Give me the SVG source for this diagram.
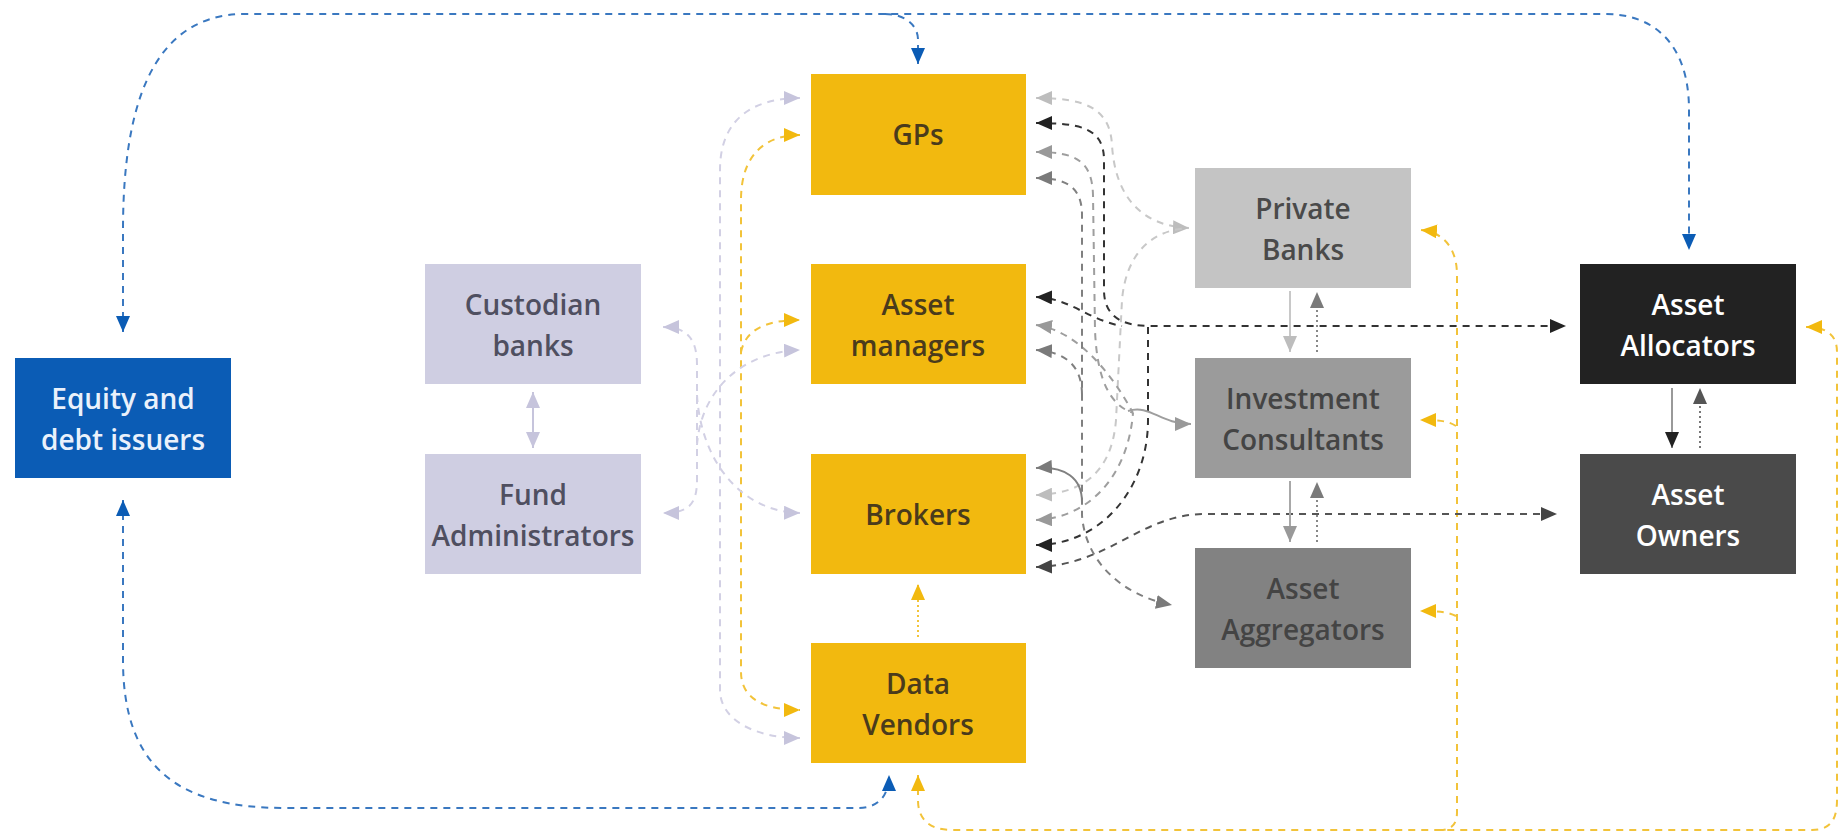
<svg xmlns="http://www.w3.org/2000/svg" width="1839" height="837" viewBox="0 0 1839 837">
<defs>
<style>
.box text{font-family:"Open Sans","Liberation Sans",sans-serif;font-weight:600;font-size:28px;text-anchor:middle;dominant-baseline:central}
.y rect{fill:#F2B90F}.y text{fill:#4a3b1c}
.lv rect{fill:#CFCEE2}.lv text{fill:#4f4f60}
.c path,.c line{fill:none;stroke-width:2;stroke-dasharray:7 6}
.solid{stroke-dasharray:none!important}
.dot{stroke-dasharray:2 3!important}
</style>
<marker id="mY" viewBox="0 0 16 14" refX="16" refY="7" markerWidth="16" markerHeight="14" markerUnits="userSpaceOnUse" orient="auto-start-reverse"><path d="M0,0L16,7L0,14z" fill="#F2B90F"/></marker>
<marker id="mB" viewBox="0 0 16 14" refX="16" refY="7" markerWidth="16" markerHeight="14" markerUnits="userSpaceOnUse" orient="auto-start-reverse"><path d="M0,0L16,7L0,14z" fill="#0B5CB5"/></marker>
<marker id="mL" viewBox="0 0 16 14" refX="16" refY="7" markerWidth="16" markerHeight="14" markerUnits="userSpaceOnUse" orient="auto-start-reverse"><path d="M0,0L16,7L0,14z" fill="#C6C4DC"/></marker>
<marker id="mK" viewBox="0 0 16 14" refX="16" refY="7" markerWidth="16" markerHeight="14" markerUnits="userSpaceOnUse" orient="auto-start-reverse"><path d="M0,0L16,7L0,14z" fill="#222"/></marker>
<marker id="mD" viewBox="0 0 16 14" refX="16" refY="7" markerWidth="16" markerHeight="14" markerUnits="userSpaceOnUse" orient="auto-start-reverse"><path d="M0,0L16,7L0,14z" fill="#444"/></marker>
<marker id="mG1" viewBox="0 0 16 14" refX="16" refY="7" markerWidth="16" markerHeight="14" markerUnits="userSpaceOnUse" orient="auto-start-reverse"><path d="M0,0L16,7L0,14z" fill="#BDBDBD"/></marker>
<marker id="mG2" viewBox="0 0 16 14" refX="16" refY="7" markerWidth="16" markerHeight="14" markerUnits="userSpaceOnUse" orient="auto-start-reverse"><path d="M0,0L16,7L0,14z" fill="#999"/></marker>
<marker id="mG3" viewBox="0 0 16 14" refX="16" refY="7" markerWidth="16" markerHeight="14" markerUnits="userSpaceOnUse" orient="auto-start-reverse"><path d="M0,0L16,7L0,14z" fill="#7A7A7A"/></marker>
<marker id="mG4" viewBox="0 0 16 14" refX="16" refY="7" markerWidth="16" markerHeight="14" markerUnits="userSpaceOnUse" orient="auto-start-reverse"><path d="M0,0L16,7L0,14z" fill="#555"/></marker>
</defs>
<rect width="1839" height="837" fill="#fff"/>

<g id="connectors" class="c">
<!-- blue -->
<g stroke="#3A78C0">
<path d="M123,332 L123,230 C123,110 150,14 245,14 L1605,14 C1655,14 1689,45 1689,110 L1689,250" marker-start="url(#mB)" marker-end="url(#mB)"/>
<path d="M885,14 C905,14 918,25 918,40 L918,64" marker-end="url(#mB)"/>
<path d="M123,500 L123,660 C123,765 175,808 285,808 L858,808 C876,808 889,798 889,775" marker-start="url(#mB)" marker-end="url(#mB)"/>
</g>
<!-- yellow -->
<g stroke="#F2C33A">
<path d="M918,775 L918,800 C918,820 930,830 952,830 L1812,830 C1830,830 1837,820 1837,800 L1837,352 C1837,336 1828,327 1806,327" marker-start="url(#mY)" marker-end="url(#mY)"/>
<path d="M1421,230 C1443,232 1457,248 1457,275 L1457,812 C1457,824 1452,830 1440,830" marker-start="url(#mY)"/>
<path d="M1456,426 C1448,421 1440,420 1420,420" marker-end="url(#mY)"/>
<path d="M1456,616 C1448,612 1440,611 1420,611" marker-end="url(#mY)"/>
<path d="M800,135 C768,135 741,152 741,200 L741,672 C741,696 760,710 800,710" marker-start="url(#mY)" marker-end="url(#mY)"/>
<path d="M741,352 C745,332 762,320 800,320" marker-end="url(#mY)"/>
<path class="dot" d="M918,637 L918,584" marker-end="url(#mY)"/>
</g>
<!-- lavender -->
<g stroke="#D2D0E4">
<path d="M800,98 C758,98 720,115 720,170 L720,690 C720,720 755,738 800,738" marker-start="url(#mL)" marker-end="url(#mL)"/>
<path d="M663,327 C688,327 697,340 697,365 L697,480 C697,505 688,513 663,513" marker-start="url(#mL)" marker-end="url(#mL)"/>
<path d="M697,445 C701,390 742,352 800,350" marker-end="url(#mL)"/>
<path d="M697,395 C701,462 742,512 800,513" marker-end="url(#mL)"/>
<path class="solid" d="M533,392 L533,448" stroke="#C6C4DC" marker-start="url(#mL)" marker-end="url(#mL)"/>
</g>
<!-- black -> Asset Allocators -->
<g stroke="#333">
<path d="M1036,123 C1080,123 1104,128 1104,160 L1104,290 C1104,315 1120,326 1150,326 L1566,326" marker-start="url(#mK)" marker-end="url(#mK)"/>
<path d="M1036,297 C1070,298 1088,320 1122,326" marker-start="url(#mK)"/>
<path d="M1036,545 C1100,545 1148,490 1148,420 L1148,326" marker-start="url(#mK)"/>
</g>
<!-- dark -> Asset Owners -->
<path stroke="#555" d="M1036,567 C1110,565 1140,514 1205,514 L1557,514" marker-start="url(#mD)" marker-end="url(#mD)"/>
<!-- light gray -> Private Banks -->
<g stroke="#C8C8C8">
<path d="M1036,98 C1085,98 1110,108 1112,145 C1115,195 1140,226 1189,228" marker-start="url(#mG1)" marker-end="url(#mG1)"/>
<path d="M1036,495 C1085,494 1112,470 1116,420 L1122,300 C1126,255 1150,230 1189,228" marker-start="url(#mG1)"/>
</g>
<!-- mid gray -> Investment Consultants -->
<g stroke="#9E9E9E">
<path d="M1036,152 C1075,152 1092,160 1093,195 L1095,330 C1097,380 1110,405 1133,413" marker-start="url(#mG2)"/>
<path d="M1036,325 C1075,330 1110,370 1133,413" marker-start="url(#mG2)"/>
<path d="M1036,520 C1090,518 1128,475 1133,413" marker-start="url(#mG2)"/>
<path class="solid" d="M1128,411 C1150,404 1160,424 1191,424" marker-end="url(#mG2)"/>
</g>
<!-- darker gray -> Asset Aggregators -->
<g stroke="#808080">
<path d="M1036,178 C1065,178 1082,186 1082,215 L1082,515 C1085,560 1120,595 1172,605" marker-start="url(#mG3)" marker-end="url(#mG3)"/>
<path d="M1036,350 C1065,352 1082,365 1082,395" marker-start="url(#mG3)"/>
<path class="solid" d="M1036,468 C1065,466 1082,478 1082,502" marker-start="url(#mG3)"/>
</g>
<!-- vertical pairs -->
<path class="solid" stroke="#C8C8C8" d="M1290,291 L1290,352" marker-end="url(#mG1)"/>
<path class="dot" stroke="#888" d="M1317,352 L1317,292" marker-end="url(#mG3)"/>
<path class="solid" stroke="#A8A8A8" d="M1290,481 L1290,542" marker-end="url(#mG2)"/>
<path class="dot" stroke="#888" d="M1317,542 L1317,482" marker-end="url(#mG3)"/>
<path class="solid" stroke="#999" d="M1672,388 L1672,448" marker-end="url(#mK)"/>
<path class="dot" stroke="#777" d="M1700,448 L1700,388" marker-end="url(#mG4)"/>
</g>

<g id="equity" class="box"><rect x="15" y="358" width="216" height="120" fill="#0B5CB5"/><text x="123" y="398" fill="#EAF1FB">Equity and</text><text x="123" y="439" fill="#EAF1FB">debt issuers</text></g>
<g id="custodian" class="box lv"><rect x="425" y="264" width="216" height="120"/><text x="533" y="304">Custodian</text><text x="533" y="345">banks</text></g>
<g id="fundadmin" class="box lv"><rect x="425" y="454" width="216" height="120"/><text x="533" y="494">Fund</text><text x="533" y="535">Administrators</text></g>
<g id="gps" class="box y"><rect x="811" y="74" width="215" height="121"/><text x="918" y="134">GPs</text></g>
<g id="assetmanagers" class="box y"><rect x="811" y="264" width="215" height="120"/><text x="918" y="304">Asset</text><text x="918" y="345">managers</text></g>
<g id="brokers" class="box y"><rect x="811" y="454" width="215" height="120"/><text x="918" y="514">Brokers</text></g>
<g id="datavendors" class="box y"><rect x="811" y="643" width="215" height="120"/><text x="918" y="683">Data</text><text x="918" y="724">Vendors</text></g>
<g id="privatebanks" class="box"><rect x="1195" y="168" width="216" height="120" fill="#C4C4C4"/><text x="1303" y="208" fill="#4a4a4a">Private</text><text x="1303" y="249" fill="#4a4a4a">Banks</text></g>
<g id="investmentconsultants" class="box"><rect x="1195" y="358" width="216" height="120" fill="#9B9B9B"/><text x="1303" y="398" fill="#444">Investment</text><text x="1303" y="439" fill="#444">Consultants</text></g>
<g id="assetaggregators" class="box"><rect x="1195" y="548" width="216" height="120" fill="#828282"/><text x="1303" y="588" fill="#444">Asset</text><text x="1303" y="629" fill="#444">Aggregators</text></g>
<g id="assetallocators" class="box"><rect x="1580" y="264" width="216" height="120" fill="#222"/><text x="1688" y="304" fill="#fff">Asset</text><text x="1688" y="345" fill="#fff">Allocators</text></g>
<g id="assetowners" class="box"><rect x="1580" y="454" width="216" height="120" fill="#4A4A4A"/><text x="1688" y="494" fill="#fff">Asset</text><text x="1688" y="535" fill="#fff">Owners</text></g>
</svg>
